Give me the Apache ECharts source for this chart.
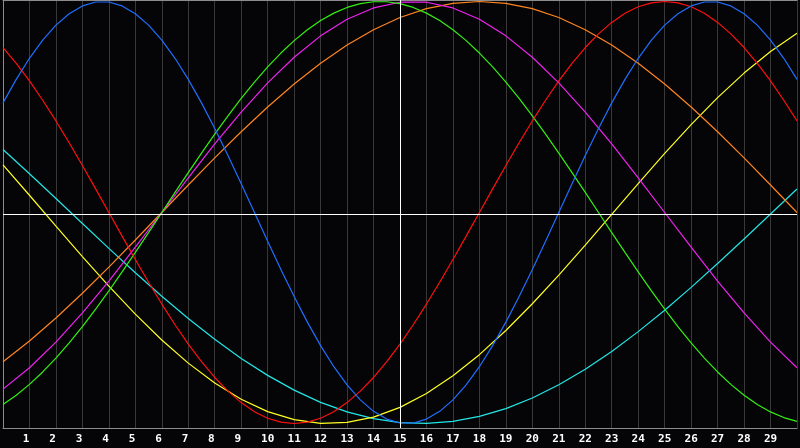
<!DOCTYPE html>
<html>
<head>
<meta charset="utf-8">
<script src="https://cdn.jsdelivr.net/npm/echarts@6/dist/echarts.min.js"></script>
<style>
html,body{margin:0;padding:0;background:#050507;}
#chart{width:800px;height:448px;}
</style>
</head>
<body>
<div id="chart"></div>
<script>
// x positions (days); labels shown 1..29
const days = [0,1,2,3,4,5,6,7,8,9,10,11,12,13,14,15,16,17,18,19,20,21,22,23,24,25,26,27,28,29,30];
const halfDays = [0,0.5,1,1.5,2,2.5,3,3.5,4,4.5,5,5.5,6,6.5,7,7.5,8,8.5,9,9.5,10,10.5,11,11.5,12,12.5,13,13.5,14,14.5,15,15.5,16,16.5,17,17.5,18,18.5,19,19.5,20,20.5,21,21.5,22,22.5,23,23.5,24,24.5,25,25.5,26,26.5,27,27.5,28,28.5,29,29.5,30];

// read at half-day steps (fast cycles)
const blue = [0.5196,0.6311,0.7308,0.8170,0.8879,0.9423,0.9791,0.9977,0.9977,0.9791,0.9423,0.8879,0.8170,0.7308,0.6311,0.5196,0.3984,0.2698,0.1362,0,-0.1362,-0.2698,-0.3984,-0.5196,-0.6311,-0.7308,-0.8170,-0.8879,-0.9423,-0.9791,-0.9977,-0.9977,-0.9791,-0.9423,-0.8879,-0.8170,-0.7308,-0.6311,-0.5196,-0.3984,-0.2698,-0.1362,0,0.1362,0.2698,0.3984,0.5196,0.6311,0.7308,0.8170,0.8879,0.9423,0.9791,0.9977,0.9977,0.9791,0.9423,0.8879,0.8170,0.7308,0.6311];
const red = [0.7818,0.7071,0.6235,0.5320,0.4339,0.3303,0.2225,0.1120,0,-0.1120,-0.2225,-0.3303,-0.4339,-0.5320,-0.6235,-0.7071,-0.7818,-0.8467,-0.9010,-0.9439,-0.9749,-0.9937,-1,-0.9937,-0.9749,-0.9439,-0.9010,-0.8467,-0.7818,-0.7071,-0.6235,-0.5320,-0.4339,-0.3303,-0.2225,-0.1120,0,0.1120,0.2225,0.3303,0.4339,0.5320,0.6235,0.7071,0.7818,0.8467,0.9010,0.9439,0.9749,0.9937,1,0.9937,0.9749,0.9439,0.9010,0.8467,0.7818,0.7071,0.6235,0.5320,0.4339];
const green = [-0.9096,-0.8660,-0.8146,-0.7557,-0.6901,-0.6182,-0.5406,-0.4582,-0.3717,-0.2817,-0.1893,-0.0951,0,0.0951,0.1893,0.2817,0.3717,0.4582,0.5406,0.6182,0.6901,0.7557,0.8146,0.8660,0.9096,0.9450,0.9718,0.9898,0.9989,0.9989,0.9898,0.9718,0.9450,0.9096,0.8660,0.8146,0.7557,0.6901,0.6182,0.5406,0.4582,0.3717,0.2817,0.1893,0.0951,0,-0.0951,-0.1893,-0.2817,-0.3717,-0.4582,-0.5406,-0.6182,-0.6901,-0.7557,-0.8146,-0.8660,-0.9096,-0.9450,-0.9718,-0.9898];

// read at whole-day steps (slow cycles)
const magenta = [-0.8372,-0.7357,-0.6142,-0.4759,-0.3247,-0.1646,0,0.1646,0.3247,0.4759,0.6142,0.7357,0.8372,0.9158,0.9694,0.9966,0.9966,0.9694,0.9158,0.8372,0.7357,0.6142,0.4759,0.3247,0.1646,0,-0.1646,-0.3247,-0.4759,-0.6142,-0.7357];
const orange = [-0.7071,-0.6088,-0.5,-0.3827,-0.2588,-0.1305,0,0.1305,0.2588,0.3827,0.5,0.6088,0.7071,0.7934,0.8660,0.9239,0.9659,0.9914,1,0.9914,0.9659,0.9239,0.8660,0.7934,0.7071,0.6088,0.5,0.3827,0.2588,0.1305,0];
const yellow = [0.2260,0.0818,-0.0642,-0.2089,-0.3491,-0.4818,-0.6042,-0.7139,-0.8082,-0.8853,-0.9436,-0.9817,-0.9990,-0.9949,-0.9697,-0.9237,-0.8580,-0.7740,-0.6738,-0.5590,-0.4324,-0.2964,-0.1542,-0.0087,0.1369,0.2798,0.4166,0.5445,0.6608,0.7631,0.8491];
const cyan = [0.2989,0.1839,0.0663,-0.0521,-0.1699,-0.2853,-0.3966,-0.5024,-0.6011,-0.6914,-0.7719,-0.8418,-0.8998,-0.9451,-0.9771,-0.9954,-0.9997,-0.9901,-0.9665,-0.9293,-0.8792,-0.8167,-0.7428,-0.6583,-0.5645,-0.4629,-0.3548,-0.2418,-0.1253,-0.0071,0.1112];

const centerDay = 15.019;
const zeroLine = -0.0095;

const pairs = (xs, arr) => xs.map((d, i) => [d, arr[i]]);

const seriesDefs = [
  {name:'cyan', xs:days, data:cyan, color:'#22e6e6'},
  {name:'yellow', xs:days, data:yellow, color:'#ffff22'},
  {name:'orange', xs:days, data:orange, color:'#ff8420'},
  {name:'magenta', xs:days, data:magenta, color:'#f022f0'},
  {name:'green', xs:halfDays, data:green, color:'#33f011'},
  {name:'red', xs:halfDays, data:red, color:'#ff1010'},
  {name:'blue', xs:halfDays, data:blue, color:'#1f6fff'}
];

const chart = echarts.init(document.getElementById('chart'), null, {renderer:'canvas'});

const series = [{
  type:'line', data:[], silent:true, z:1,
  markLine:{
    silent:true, symbol:'none', animation:false,
    label:{show:false},
    lineStyle:{color:'#ffffff', width:1, type:'solid'},
    data:[{xAxis:centerDay},{yAxis:zeroLine}]
  }
}].concat(seriesDefs.map(s => ({
  name:s.name, type:'line', data:pairs(s.xs, s.data), smooth:false, showSymbol:false,
  lineStyle:{color:s.color, width:1.2}, itemStyle:{color:s.color}, z:3, animation:false
})));

chart.setOption({
  backgroundColor:'#050507',
  animation:false,
  grid:{left:0, right:0, top:0, bottom:20},
  xAxis:[{
    type:'value', min:0, max:30, interval:1, position:'bottom',
    axisLine:{show:true, onZero:false, lineStyle:{color:'#8c8c8c', width:1}},
    axisTick:{show:false},
    splitLine:{show:true, lineStyle:{color:'#383838', width:1}},
    axisLabel:{
      color:'#ffffff', fontWeight:'bold', fontSize:11, margin:6,
      fontFamily:'DejaVu Sans Mono',
      formatter: v => (v >= 1 && v <= 29) ? (v < 10 ? v + ' ' : String(v)) : ''
    }
  },{
    type:'value', min:0, max:30, position:'top',
    axisLine:{show:true, onZero:false, lineStyle:{color:'#8c8c8c', width:1}},
    axisTick:{show:false}, axisLabel:{show:false}, splitLine:{show:false}
  }],
  yAxis:{
    type:'value', min:-1.0213, max:1.0071, position:'left',
    axisLine:{show:true, onZero:false, lineStyle:{color:'#8c8c8c', width:1}},
    axisTick:{show:false}, axisLabel:{show:false}, splitLine:{show:false}
  },
  series: series
});
</script>
</body>
</html>
